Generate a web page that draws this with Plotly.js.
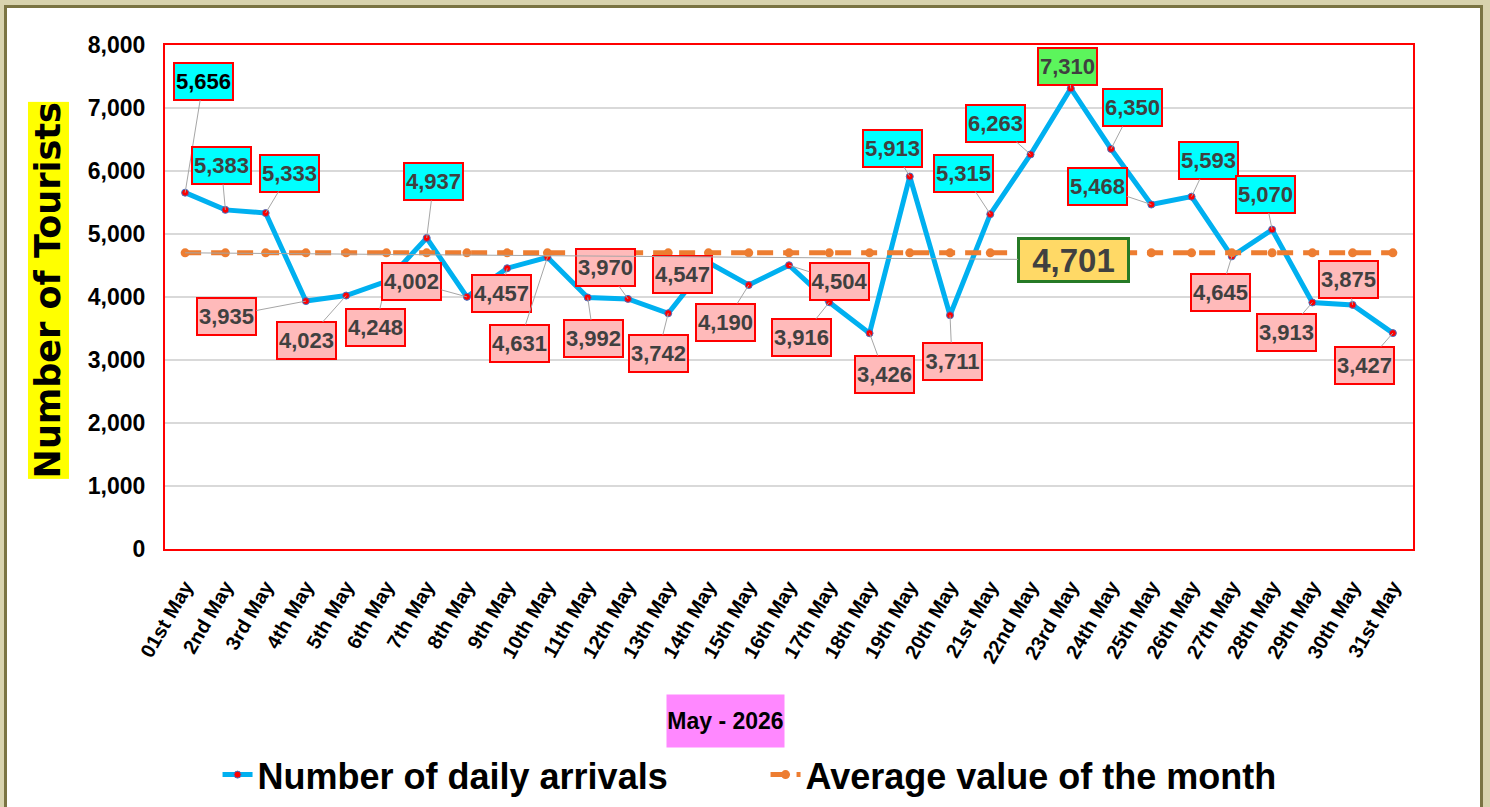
<!DOCTYPE html>
<html>
<head>
<meta charset="utf-8">
<script src="https://cdn.plot.ly/plotly-3.0.1.min.js"></script>
<style>
  html, body { margin: 0; padding: 0; width: 1490px; height: 807px; overflow: hidden; background: #D8D3AE; }
  #card { position: absolute; left: 4px; top: 5px; width: 1473px; height: 820px; border: 3px solid #7A7443; background: #FFFFFF; }
  #chart { position: absolute; left: 0; top: 0; width: 1490px; height: 807px; }
</style>
</head>
<body>
<div id="card"></div>
<div id="chart"></div>
<script>
// ---- data ----
const days = ["01st May","2nd May","3rd May","4th May","5th May","6th May","7th May","8th May","9th May","10th May",
  "11th May","12th May","13th May","14th May","15th May","16th May","17th May","18th May","19th May","20th May",
  "21st May","22nd May","23rd May","24th May","25th May","26th May","27th May","28th May","29th May","30th May","31st May"];
const arrivals = [5656,5383,5333,3935,4023,4248,4937,4002,4457,4631,
  3992,3970,3742,4547,4190,4504,3916,3426,5913,3711,
  5315,6263,7310,6350,5468,5593,4645,5070,3913,3875,3427];
const seriesNames = ["Number of daily arrivals", "Average value of the month"];
const yTickVals = [0,1000,2000,3000,4000,5000,6000,7000,8000];

// ---- derived ----
const avg = arrivals.reduce((a, b) => a + b, 0) / arrivals.length;
const avgLine = arrivals.map(() => avg);
const maxVal = Math.max(...arrivals);

// label box offsets in pixels (layout only)
const labelOffsets = [[18,-111],[-4,-44],[24,-40],[-79,15],[-40,45],[-11,46],[7,-56],[-55,-15],[-6,25],[-28,86],
  [6,41],[-22,-31],[-10,40],[-26,12],[-23,37],[50,16],[-28,35],[15,41],[-17,-28],[2,46],
  [-27,-41],[-35,-31],[-3,-22],[21,-41],[-54,-18],[17,-36],[-11,36],[-7,-35],[-26,30],[-4,-25],[-28,32]];

const sans = "Liberation Sans, Arial, sans-serif";
const fmt = v => Math.round(v).toLocaleString("en-US");

const annotations = arrivals.map((v, i) => ({
  x: days[i], y: v, xref: "x", yref: "y",
  text: "<b>" + fmt(v) + "</b>",
  showarrow: true, arrowhead: 0, arrowwidth: 1, arrowcolor: "#A6A6A6",
  ax: labelOffsets[i][0], ay: labelOffsets[i][1],
  bgcolor: v === maxVal ? "#5CF55C" : (v >= avg ? "#00FFFF" : "#FFBABA"),
  bordercolor: "#FF0000", borderwidth: 2, borderpad: 0,
  width: 57, height: 35,
  font: { family: sans, size: 22, color: i === 0 ? "#000000" : "#404040" }
}));

annotations.push({
  x: days[0], y: avg, xref: "x", yref: "y",
  text: "<b>" + fmt(avg) + "</b>",
  showarrow: true, arrowhead: 0, arrowwidth: 1, arrowcolor: "#A6A6A6",
  ax: 888, ay: 7,
  bgcolor: "#FFD966", bordercolor: "#267A26", borderwidth: 3, borderpad: 0,
  width: 107, height: 40,
  font: { family: sans, size: 33, color: "#404040" }
});

annotations.push({
  xref: "paper", yref: "paper", x: -0.0934, y: 0.514, xanchor: "center", yanchor: "middle",
  text: "<b>Number of Tourists</b>", textangle: -90, showarrow: false,
  bgcolor: "#FFFF00", borderpad: 0,
  font: { family: "DejaVu Sans, sans-serif", size: 35, color: "#000000" }
});

annotations.push({
  xref: "paper", yref: "paper", x: 0.449, y: -0.341, xanchor: "center", yanchor: "middle",
  text: "<b>May - 2026</b>", showarrow: false,
  bgcolor: "#FF88FF", borderpad: 0, width: 117, height: 52,
  font: { family: sans, size: 23, color: "#000000" }
});

const traces = [
  {
    x: days, y: arrivals, name: seriesNames[0], type: "scatter", mode: "lines+markers",
    line: { color: "#00B0F0", width: 5 },
    marker: { color: "#FF0000", size: 7, line: { color: "#4472C4", width: 1 } }
  },
  {
    x: days, y: avgLine, name: seriesNames[1], type: "scatter", mode: "lines+markers",
    line: { color: "#ED7D31", width: 5, dash: "16px,10px" },
    marker: { color: "#ED7D31", size: 9 }
  }
];

const layout = {
  width: 1490, height: 807,
  margin: { l: 165, r: 77, t: 45, b: 258 },
  paper_bgcolor: "rgba(0,0,0,0)",
  plot_bgcolor: "#FFFFFF",
  showlegend: true,
  legend: {
    orientation: "h", xref: "container", yref: "container",
    x: 0.146, y: 0.04, xanchor: "left", yanchor: "middle",
    font: { family: sans, size: 36, color: "#000000", weight: "bold" },
    entrywidth: 503, bgcolor: "rgba(0,0,0,0)"
  },
  xaxis: {
    type: "category", range: [-0.5, 30.5],
    tickangle: -60,
    tickfont: { family: sans, size: 20, color: "#000000", weight: "bold" },
    showgrid: false, showline: true, mirror: true, linecolor: "#FF0000", linewidth: 2,
    ticks: "", ticklabelstandoff: 16, zeroline: false
  },
  yaxis: {
    range: [0, 8000], tickvals: yTickVals, ticktext: yTickVals.map(fmt),
    tickfont: { family: sans, size: 23, color: "#000000", weight: "bold" },
    showgrid: true, gridcolor: "#D9D9D9", gridwidth: 2,
    showline: true, mirror: true, linecolor: "#FF0000", linewidth: 2,
    ticks: "", ticklabelstandoff: 13, zeroline: false
  },
  annotations: annotations
};

Plotly.newPlot("chart", traces, layout, { displayModeBar: false, staticPlot: true });
</script>
</body>
</html>
